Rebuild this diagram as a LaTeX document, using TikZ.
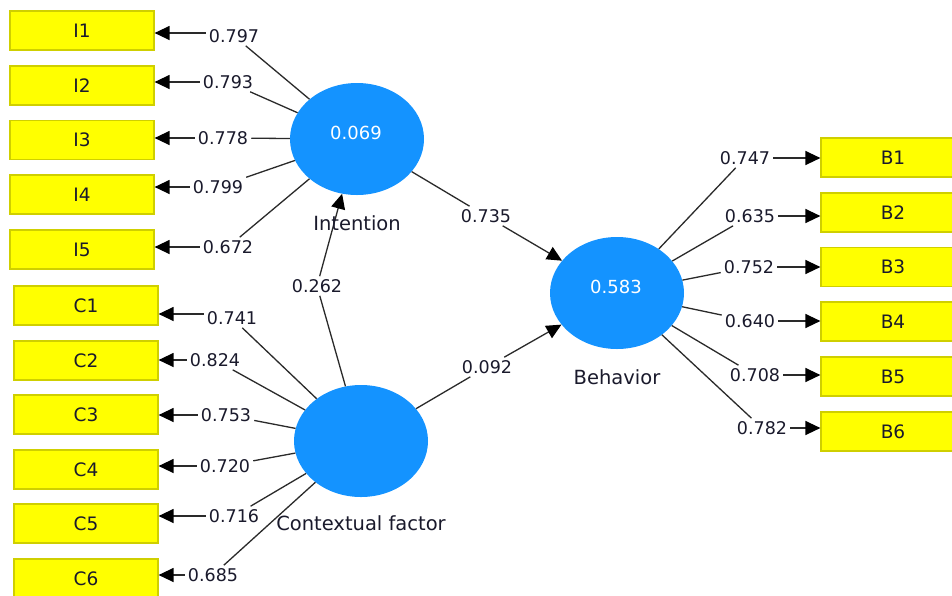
\documentclass[tikz,border=0pt]{standalone}
\usepackage{fontspec}
\setmainfont{DejaVu Sans}
\usetikzlibrary{arrows.meta,shapes.geometric}
\definecolor{boxfill}{HTML}{FFFF00}
\definecolor{boxline}{HTML}{CFCF00}
\definecolor{lvfill}{HTML}{1493FF}
\definecolor{txt}{HTML}{1A1A2C}
\definecolor{ln}{HTML}{2A2A2A}
\begin{document}
\begin{tikzpicture}[x=1pt,y=-1pt,
 ind/.style={draw=boxline,line width=1.2pt,fill=boxfill,minimum width=144pt,minimum height=39pt,inner sep=0pt,font=\fontsize{18.5}{20}\selectfont,text=txt},
 lv/.style={ellipse,fill=lvfill,minimum width=134pt,minimum height=112pt,inner sep=0pt},
 val/.style={text=white,font=\fontsize{18}{20}\selectfont,inner sep=0pt},
 lvname/.style={text=txt,font=\fontsize{19.5}{22}\selectfont,inner sep=0pt},
 lbl/.style={text=txt,font=\fontsize{17.5}{20}\selectfont,inner sep=3pt},
 link/.style={draw=ln,line width=1.3pt},
 arr/.style={link,-{Triangle[length=15pt,width=14pt,color=black]}}
]
\clip (0,0) rectangle (952,595);
\fill[white] (0,0) rectangle (952,595);

% latent variables
\node[lv] (INT) at (357,139) {};
\node[lv] (CF)  at (361,441) {};
\node[lv] (BEH) at (617,293) {};
\node[val] (vINT) at (356,133) {0.069};
\node[val] (vBEH) at (616,287) {0.583};

% indicators
\node[ind] (I1) at (82,30.5) {I1};
\node[ind] (I2) at (82,85.5) {I2};
\node[ind] (I3) at (82,140) {I3};
\node[ind] (I4) at (82,194.5) {I4};
\node[ind] (I5) at (82,249.5) {I5};
\node[ind] (C1) at (86,305.5) {C1};
\node[ind] (C2) at (86,360.5) {C2};
\node[ind] (C3) at (86,414.5) {C3};
\node[ind] (C4) at (86,469.5) {C4};
\node[ind] (C5) at (86,523.5) {C5};
\node[ind] (C6) at (86,578.5) {C6};
\node[ind] (B1) at (893,157.5) {B1};
\node[ind] (B2) at (893,212.5) {B2};
\node[ind] (B3) at (893,267) {B3};
\node[ind] (B4) at (893,321.5) {B4};
\node[ind] (B5) at (893,376.5) {B5};
\node[ind] (B6) at (893,431.5) {B6};

% loading labels
\node[lbl] (lI1) at (234,36) {0.797};
\node[lbl] (lI2) at (228,82) {0.793};
\node[lbl] (lI3) at (223,138) {0.778};
\node[lbl] (lI4) at (218,187) {0.799};
\node[lbl] (lI5) at (228,247) {0.672};
\node[lbl] (lC1) at (232,318) {0.741};
\node[lbl] (lC2) at (215,360) {0.824};
\node[lbl] (lC3) at (226,415) {0.753};
\node[lbl] (lC4) at (225,466) {0.720};
\node[lbl] (lC5) at (234,516) {0.716};
\node[lbl] (lC6) at (213,575) {0.685};
\node[lbl] (lB1) at (745,158) {0.747};
\node[lbl] (lB2) at (750,216) {0.635};
\node[lbl] (lB3) at (749,267) {0.752};
\node[lbl] (lB4) at (750,321) {0.640};
\node[lbl] (lB5) at (755,375) {0.708};
\node[lbl] (lB6) at (762,428) {0.782};

% path labels
\node[lbl] (p1) at (486,216) {0.735};
\node[lbl] (p2) at (317,286) {0.262};
\node[lbl] (p3) at (487,367) {0.092};

% loading lines
\foreach \n in {1,...,5} {
  \draw[link] (INT) -- (lI\n);
}
\foreach \n in {1,...,6} {
  \draw[link] (CF) -- (lC\n);
  \draw[link] (BEH) -- (lB\n);
  \draw[arr] (lB\n.east) -- (lB\n.east -| B\n.west);
}
\draw[arr] ([yshift=3pt]lI1.west) -- ([yshift=3pt]lI1.west -| I1.east);
\foreach \n in {2,...,5} {
  \draw[arr] (lI\n.west) -- (lI\n.west -| I\n.east);
}
\draw[arr] ([yshift=4pt]lC1.west) -- ([yshift=4pt]lC1.west -| C1.east);
\foreach \n in {2,...,6} {
  \draw[arr] (lC\n.west) -- (lC\n.west -| C\n.east);
}

% structural paths
\draw[link] (INT) -- (p1);
\draw[arr] (p1) -- (BEH);
\draw[link] (CF) -- (p2);
\draw[arr] (p2) -- (INT);
\draw[link] (CF) -- (p3);
\draw[arr] (p3) -- (BEH);

% latent names
\node[lvname] (nINT) at (357,223) {Intention};
\node[lvname] (nCF) at (361,523) {Contextual factor};
\node[lvname] (nBEH) at (617,377) {Behavior};
\end{tikzpicture}
\end{document}
